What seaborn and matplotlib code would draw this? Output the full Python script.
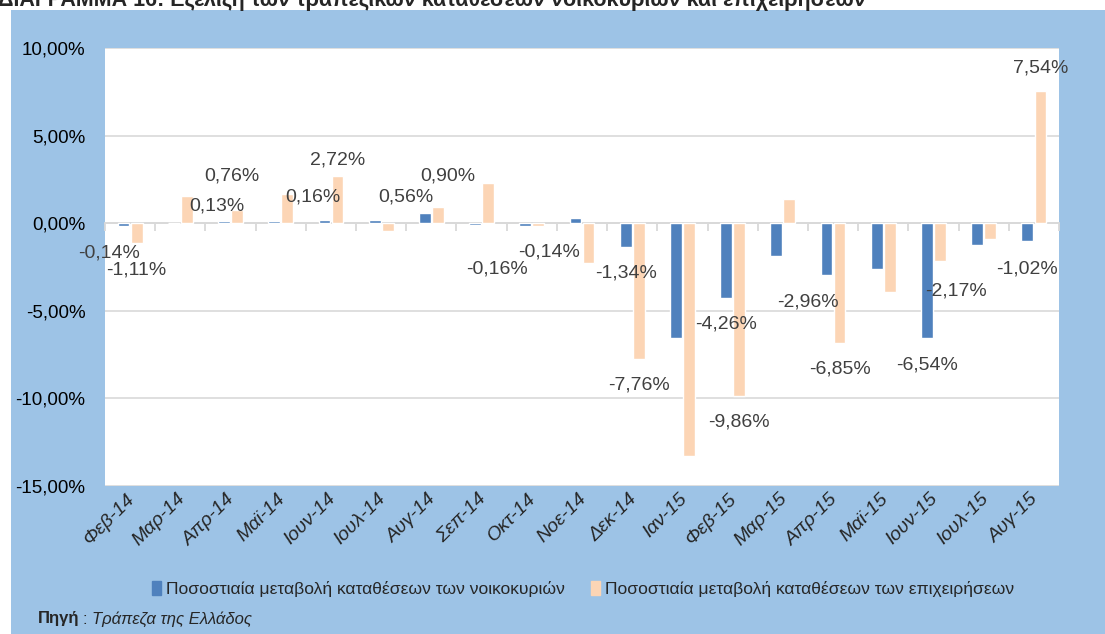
import numpy as np
import pandas as pd
import matplotlib
matplotlib.use("Agg")
import matplotlib.pyplot as plt
import matplotlib.transforms as mtransforms
import seaborn as sns
from matplotlib.patches import Rectangle
from matplotlib.ticker import FuncFormatter, MultipleLocator

# === Data (percent change of deposits) ===
months = ["Φεβ-14", "Μαρ-14", "Απρ-14", "Μαϊ-14", "Ιουν-14", "Ιουλ-14", "Αυγ-14",
          "Σεπ-14", "Οκτ-14", "Νοε-14", "Δεκ-14", "Ιαν-15", "Φεβ-15", "Μαρ-15",
          "Απρ-15", "Μαϊ-15", "Ιουν-15", "Ιουλ-15", "Αυγ-15"]
households = [-0.14, 0.02, 0.13, 0.15, 0.16, 0.18, 0.56, -0.08, -0.16, 0.28,
              -1.34, -6.53, -4.26, -1.85, -2.96, -2.60, -6.54, -1.22, -1.02]
businesses = [-1.11, 1.53, 0.76, 1.68, 2.72, -0.45, 0.90, 2.28, -0.14, -2.26,
              -7.76, -13.27, -9.86, 1.40, -6.85, -3.95, -2.17, -0.90, 7.54]

series_names = ["Ποσοστιαία μεταβολή καταθέσεων των νοικοκυριών",
                "Ποσοστιαία μεταβολή καταθέσεων των επιχειρήσεων"]

# which bars carry a data label (series index, month)
labelled = [(0, "Φεβ-14"), (1, "Φεβ-14"), (0, "Απρ-14"), (1, "Απρ-14"),
            (0, "Ιουν-14"), (1, "Ιουν-14"), (0, "Αυγ-14"), (1, "Αυγ-14"),
            (0, "Οκτ-14"), (1, "Οκτ-14"), (0, "Δεκ-14"), (1, "Δεκ-14"),
            (0, "Φεβ-15"), (1, "Φεβ-15"), (0, "Απρ-15"), (1, "Απρ-15"),
            (0, "Ιουν-15"), (1, "Ιουν-15"), (0, "Αυγ-15"), (1, "Αυγ-15")]
# label offsets from bar end, in pixels (dx right, dy down) - dragged labels in the original
label_offsets = [(-15, 27), (0, 27), (-7, -15), (-5, -34),
                 (-12, -23), (0, -16), (-19, -16), (10, -31),
                 (-28, 43), (11, 26), (0, 26), (0, 26),
                 (0, 26), (0, 26), (-19, 27), (0, 26),
                 (0, 27), (16, 30), (0, 28), (0, -23)]

title = "ΔΙΑΓΡΑΜΜΑ 16: Εξέλιξη των τραπεζικών καταθέσεων νοικοκυριών και επιχειρήσεων"

df = pd.DataFrame({
    "month": months * 2,
    "value": households + businesses,
    "series": [series_names[0]] * len(months) + [series_names[1]] * len(months),
})

sns.set_style("white")
plt.rcParams["font.family"] = ["Liberation Sans", "DejaVu Sans"]

BLUE = "#4F81BD"
PEACH = "#FCD5B5"
BG = "#9DC3E6"
GRID = "#D9D9D9"

W, H = 1105, 634
fig = plt.figure(figsize=(W / 100, H / 100), dpi=100)
fig.patch.set_facecolor("white")
fig.patches.append(Rectangle((11 / W, 0), 1 - 11 / W, 1 - 10 / H,
                             transform=fig.transFigure, facecolor=BG,
                             edgecolor="none", zorder=-1))

ax = fig.add_axes([105 / W, 1 - 486 / H, 954 / W, 438 / H])
ax.set_facecolor("white")

sns.barplot(data=df, x="month", y="value", hue="series", order=months,
            hue_order=series_names, palette=[BLUE, PEACH], width=0.52, gap=0.1,
            saturation=1, ax=ax)
ax.get_legend().remove()

ymin, ymax = -15, 10
ax.set_ylim(ymin, ymax)
ax.set_xlim(-0.5, len(months) - 0.5)
ax.yaxis.set_major_locator(MultipleLocator(5))
ax.yaxis.set_major_formatter(FuncFormatter(lambda v, p: f"{v:.2f}".replace(".", ",") + "%"))
ax.yaxis.grid(True, color=GRID, lw=1.2)
ax.set_axisbelow(True)
for s in ax.spines.values():
    s.set_visible(False)
ax.set_xlabel("")
ax.set_ylabel("")
ax.tick_params(axis="y", length=0, pad=14, labelsize=13.5, labelcolor="black")
ax.tick_params(axis="x", length=0, pad=3)
ax.set_xticks(range(len(months)))
ax.set_xticklabels(months, rotation=45, ha="right", rotation_mode="anchor",
                   fontsize=14, fontstyle="italic")
shift = mtransforms.ScaledTranslation(-4 / 100, 0, fig.dpi_scale_trans)
for lab in ax.get_xticklabels():
    lab.set_transform(lab.get_transform() + shift)

# category axis sits on the zero line, with tick marks between categories
zero_loc = (0 - ymin) / (ymax - ymin)
sec = ax.secondary_xaxis(zero_loc)
sec.set_xticks(np.arange(-0.5, len(months), 1))
sec.tick_params(axis="x", direction="in", length=6, width=1.3, color=GRID,
                labelbottom=False, labeltop=False)
for side in ["top", "bottom"]:
    sec.spines[side].set_color(GRID)
    sec.spines[side].set_linewidth(1.3)

# data labels
series_vals = [households, businesses]
for (si, m), (dx, dy) in zip(labelled, label_offsets):
    idx = months.index(m)
    bar = ax.containers[si][idx]
    v = series_vals[si][idx]
    xc = bar.get_x() + bar.get_width() / 2
    ax.annotate(f"{v:.2f}".replace(".", ",") + "%", (xc, v),
                xytext=(dx, -dy), textcoords="offset pixels",
                ha="center", va="center", fontsize=14, color="#404040",
                annotation_clip=False)

# legend below the axis labels
handles = [Rectangle((0, 0), 1, 1, color=BLUE), Rectangle((0, 0), 1, 1, color=PEACH)]
fig.legend(handles, series_names, loc="center", bbox_to_anchor=(583 / W, 1 - 589 / H),
           ncol=2, frameon=False, fontsize=12.6, handlelength=0.5, handleheight=0.9,
           handletextpad=0.3, columnspacing=1.5)

# source note
fig.text(38 / W, 1 - 619 / H, "Πηγή", fontsize=12, fontweight="bold", va="center")
fig.text(82 / W, 1 - 619 / H, ":", fontsize=12, va="center")
fig.text(92 / W, 1 - 619 / H, "Τράπεζα της Ελλάδος", fontsize=12, fontstyle="italic", va="center")

# title (cut off by the top edge in the original)
fig.text(-2 / W, 1 - 6 / H, title, fontsize=15.5, fontweight="bold", va="baseline", ha="left")

fig.savefig("out.png", dpi=100)
